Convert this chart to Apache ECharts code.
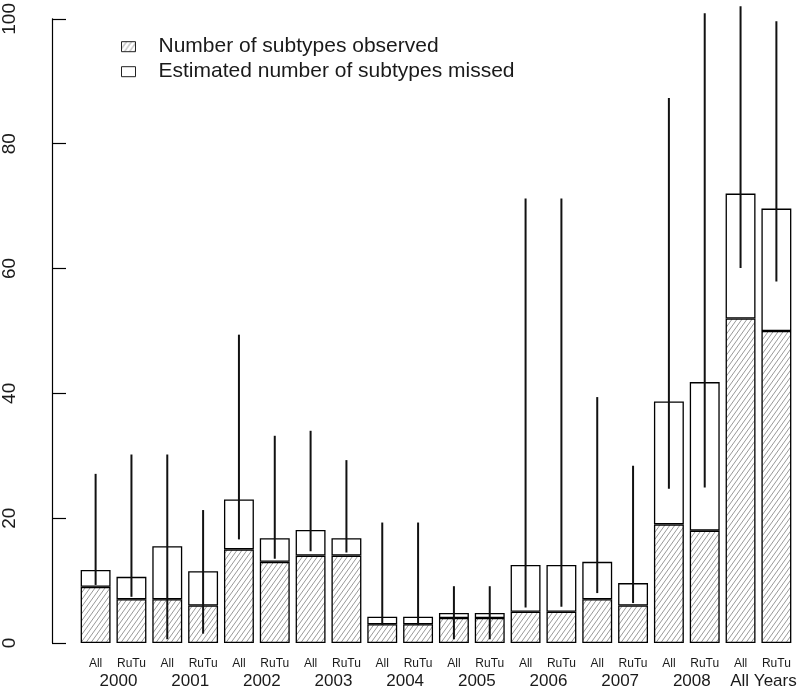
<!DOCTYPE html>
<html>
<head>
<meta charset="utf-8">
<script src="https://cdn.jsdelivr.net/npm/echarts@6/dist/echarts.min.js"></script>
<style>html,body{margin:0;padding:0;background:#fff}#c{width:800px;height:690px}</style>
</head>
<body>
<div id="c"></div>
<script>
// ---- data ----
var categories = ['All','RuTu','All','RuTu','All','RuTu','All','RuTu','All','RuTu','All','RuTu','All','RuTu','All','RuTu','All','RuTu','All','RuTu'];
var groups = ['2000','2001','2002','2003','2004','2005','2006','2007','2008','All Years'];
var observed = [9,7,7,6,15,13,14,14,3,3,4,4,5,5,7,6,19,18,52,50];
var missed = [2.7,3.6,8.5,5.5,8.0,3.8,4.1,2.8,1.2,1.2,0.8,0.8,7.5,7.5,6.0,3.6,19.7,23.8,20.0,19.6];
var ciLow = [9.3,7.4,0.6,1.5,16.6,13.5,14.7,14.5,2.9,2.9,0.6,0.6,5.7,5.8,8.0,6.4,24.7,24.9,60.1,57.9];
var ciHigh = [27.1,30.2,30.2,21.3,49.4,33.2,34.0,29.3,19.3,19.3,9.1,9.1,71.2,71.2,39.4,28.4,87.3,100.9,102.0,99.6];
var yTicks = [0,20,40,60,80,100];

// ---- hatch pattern ----
function makeHatch(){
  var w=5,h=7;
  var c=document.createElement('canvas'); c.width=w; c.height=h;
  var g=c.getContext('2d');
  g.fillStyle='#ffffff'; g.fillRect(0,0,w,h);
  g.strokeStyle='#8c8c8c'; g.lineWidth=0.9;
  g.beginPath();
  g.moveTo(0,h); g.lineTo(w,0);
  g.moveTo(-w,h); g.lineTo(0,0);
  g.moveTo(w,h); g.lineTo(2*w,0);
  g.stroke();
  return c;
}
var hatch = {image: makeHatch(), repeat: 'repeat'};

var ciData = categories.map(function(c,i){ return [i, ciLow[i], ciHigh[i]]; });

var FONT = 'Liberation Sans, Arial, sans-serif';
var chart = echarts.init(document.getElementById('c'), null, {renderer:'canvas'});
chart.setOption({
  animation: false,
  backgroundColor: '#ffffff',
  textStyle: {fontFamily: FONT},
  grid: {left: 75.7, right: 5.7, top: 18.3, bottom: 46.7, containLabel: false},
  legend: {
    orient: 'vertical', left: 121, top: 36.2, padding: 0,
    icon: 'rect', itemWidth: 14, itemHeight: 10, itemGap: 4,
    selectedMode: false,
    textStyle: {fontSize: 21, color: '#1a1a1a', fontFamily: FONT, lineHeight: 21, padding: [0,0,0,18]},
    data: [
      {name: 'Number of subtypes observed', itemStyle: {borderColor: '#222', borderWidth: 1}},
      {name: 'Estimated number of subtypes missed', itemStyle: {color: '#fff', borderColor: '#222', borderWidth: 1}}
    ]
  },
  xAxis: [
    {
      type: 'category', data: categories, position: 'bottom',
      axisLine: {show: false}, axisTick: {show: false}, splitLine: {show: false},
      axisLabel: {interval: 0, fontSize: 12, color: '#1a1a1a', margin: 15, fontFamily: FONT}
    },
    {
      type: 'category', data: groups, position: 'bottom', offset: 0,
      axisLine: {show: false}, axisTick: {show: false}, splitLine: {show: false},
      axisLabel: {interval: 0, fontSize: 17, color: '#1a1a1a', margin: 30, padding: [0,0,0,10], fontFamily: FONT}
    }
  ],
  yAxis: {
    type: 'value', min: 0, max: 100, interval: 20, offset: 25.7,
    axisLine: {show: true, lineStyle: {color: '#000', width: 1.2}},
    axisTick: {show: true, inside: true, length: 14, lineStyle: {color: '#000', width: 1.2}},
    splitLine: {show: false},
    axisLabel: {rotate: 90, fontSize: 19, color: '#1a1a1a', margin: 33, fontFamily: FONT,
      formatter: function(v){ return yTicks.indexOf(v) >= 0 ? String(v) : ''; }}
  },
  series: [
    {
      name: 'Number of subtypes observed', type: 'bar', stack: 's', data: observed,
      barWidth: 29.9, silent: true,
      itemStyle: {color: hatch, borderColor: '#000', borderWidth: 1.3}
    },
    {
      name: 'Estimated number of subtypes missed', type: 'bar', stack: 's', data: missed,
      barWidth: 29.9, silent: true,
      itemStyle: {color: '#ffffff', borderColor: '#000', borderWidth: 1.3}
    },
    {
      name: 'ci', type: 'custom', data: ciData, silent: true, z: 10, clip: false,
      encode: {x: 0, y: [1,2]},
      renderItem: function(params, api){
        var i = api.value(0);
        var p1 = api.coord([i, api.value(1)]);
        var p2 = api.coord([i, api.value(2)]);
        return {type: 'line', shape: {x1: p1[0], y1: p1[1], x2: p2[0], y2: p2[1]},
          style: {stroke: '#111', lineWidth: 2}};
      }
    }
  ]
});
</script>
</body>
</html>
